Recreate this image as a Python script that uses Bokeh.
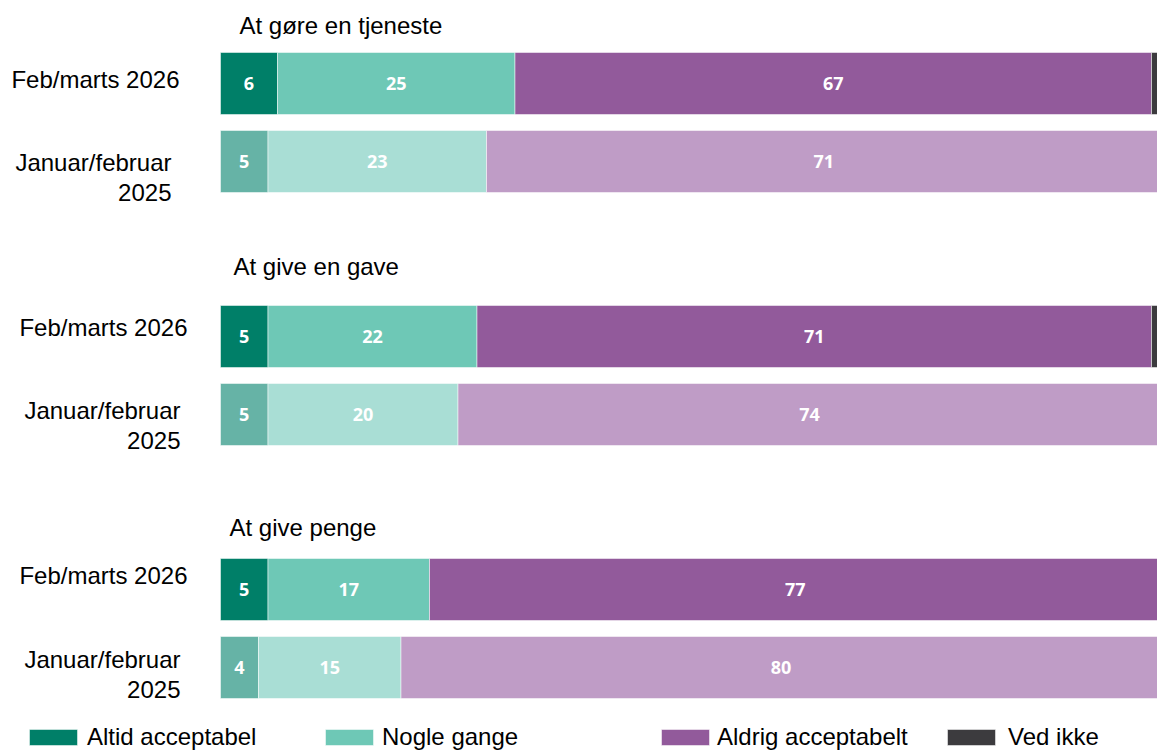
from bokeh.plotting import figure
from bokeh.models import ColumnDataSource, Range1d, Legend, LegendItem
from bokeh.core.properties import value
from bokeh.embed import file_html
from bokeh.resources import INLINE

# ---------------- data ----------------
groups = ["At gøre en tjeneste", "At give en gave", "At give penge"]
periods = ["Feb/marts 2026", "Januar/februar\n2025"]
categories = ["Altid acceptabel", "Nogle gange", "Aldrig acceptabelt", "Ved ikke"]

altid_2026 = [6, 5, 5]
nogle_2026 = [25, 22, 17]
aldrig_2026 = [67, 71, 77]
vedikke_2026 = [2, 2, 1]

altid_2025 = [5, 5, 4]
nogle_2025 = [23, 20, 15]
aldrig_2025 = [71, 74, 80]
vedikke_2025 = [1, 1, 1]

# ---------------- styles ----------------
dark_colors = ["#007F68", "#6EC8B6", "#925A9B", "#3C3B3E"]
light_colors = ["#66B3A6", "#A9DED5", "#BF9CC6", "#8A898B"]
FONT = "Liberation Sans"

ROW_STEP_PX = 78.0          # distance between the two rows of a group
GROUP_STEP = 253.0 / ROW_STEP_PX   # distance between groups, in row units
PX_PER_PCT = 9.5
W, H = 1157, 752
X0_PX = 220                 # where 0 % sits inside the figure
Y0_PX = 83                  # where the first row sits inside the figure

series = {
    0: [altid_2026, nogle_2026, aldrig_2026, vedikke_2026],
    1: [altid_2025, nogle_2025, aldrig_2025, vedikke_2025],
}

rows = dict(y=[], left=[], right=[], color=[], cat=[])
labels = dict(x=[], y=[], text=[])
for g in range(len(groups)):
    for r in range(len(periods)):
        y = g * GROUP_STEP + r
        left = 0
        for c, arr in enumerate(series[r]):
            v = arr[g]
            rows["y"].append(y)
            rows["left"].append(left)
            rows["right"].append(left + v)
            rows["color"].append(dark_colors[c] if r == 0 else light_colors[c])
            rows["cat"].append(categories[c])
            if c < 3:
                labels["x"].append(left + v / 2)
                labels["y"].append(y)
                labels["text"].append(str(v))
            left += v

src = ColumnDataSource(rows)
lsrc = ColumnDataSource(labels)

x_start = -X0_PX / PX_PER_PCT
x_end = x_start + W / PX_PER_PCT
y_top = -Y0_PX / ROW_STEP_PX
y_bottom = (H - Y0_PX) / ROW_STEP_PX

p = figure(width=W, height=H, x_range=Range1d(x_start, x_end),
           y_range=Range1d(y_bottom, y_top),
           output_backend="svg", toolbar_location=None,
           x_axis_type=None, y_axis_type=None, min_border=0,
           outline_line_color=None)
p.grid.visible = False
p.background_fill_color = "white"
p.border_fill_color = "white"

bars = p.hbar(y="y", left="left", right="right", height=0.795,
              fill_color="color", line_color="white", line_alpha=0.5,
              line_width=1, source=src)

p.text(x="x", y="y", text="text", source=lsrc, text_color="white",
       text_font=value("Open Sans"), text_font_style="bold",
       text_font_size="18px", text_align="center", text_baseline="middle")

# group titles and row labels
title_dx = [19, 13, 9]
title_dy = [-58, -70, -62]
row1_dx = [-41, -33, -33]
row1_dy = [-4, -9, -14]
row2_dx = [-49, -40, -40]
row2_dy = [16, 11, 7]

for g, name in enumerate(groups):
    y0 = g * GROUP_STEP
    p.text(x=[0], y=[y0], text=[name], x_offset=title_dx[g], y_offset=title_dy[g],
           text_font=value(FONT), text_font_size="24px", text_color="black",
           text_align="left", text_baseline="middle")
    p.text(x=[0], y=[y0], text=[periods[0]], x_offset=row1_dx[g], y_offset=row1_dy[g],
           text_font=value(FONT), text_font_size="24px", text_color="black",
           text_align="right", text_baseline="middle")
    p.text(x=[0], y=[y0 + 1], text=[periods[1]], x_offset=row2_dx[g], y_offset=row2_dy[g],
           text_font=value(FONT), text_font_size="24px", text_color="black",
           text_align="right", text_baseline="middle", text_line_height=1.13)

# legend: one small legend per entry, placed like the reference
legend_x = [23, 319, 655, 941]
standoffs = [4, 3, 2, 7]
for i, cat in enumerate(categories):
    leg = Legend(items=[LegendItem(label=cat, renderers=[bars], index=i)],
                 location=(legend_x[i], 1), orientation="horizontal",
                 glyph_width=60, glyph_height=20, label_standoff=standoffs[i],
                 padding=0, margin=0, border_line_color=None,
                 background_fill_alpha=0, label_text_font=FONT,
                 label_text_font_size="24px", label_text_color="black")
    p.add_layout(leg)

open("out.html", "w").write(file_html(p, INLINE))
